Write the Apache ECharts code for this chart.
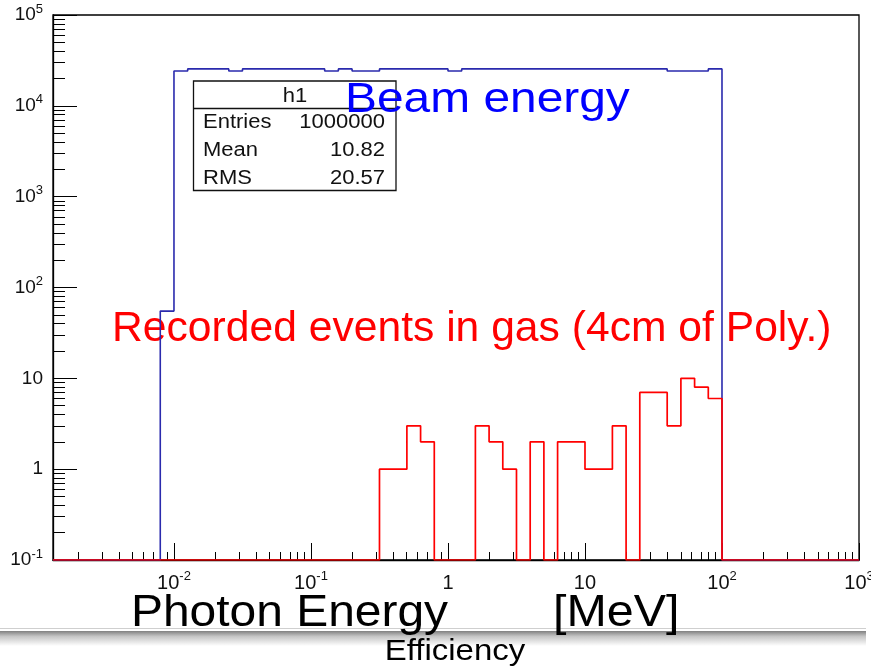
<!DOCTYPE html>
<html>
<head>
<meta charset="utf-8">
<script src="https://cdn.jsdelivr.net/npm/echarts@6/dist/echarts.min.js"></script>
<style>
  html, body { margin: 0; padding: 0; background: #fff; }
  #chart { width: 871px; height: 667px; }
</style>
</head>
<body>
<div id="chart"></div>
<script>
const FONT = '"Liberation Sans", Arial, sans-serif';

// Axis ranges, expressed as log10 of the plotted quantity
const xMinExp = -2.883;
const xMaxExp = 3;
const yMinExp = -1;
const yMaxExp = 5;
const xMajorExp = [-2, -1, 0, 1, 2, 3];
const yMajorExp = [-1, 0, 1, 2, 3, 4, 5];

// Histogram binning: 10 equal bins per decade of photon energy
const binWidthExp = 0.1;

// h1: beam energy spectrum (counts per bin), first bin starts at 10^-2.1 MeV
const beamStartExp = -2.1;
const beamCounts = [
  55,
  24200, 25500, 25500, 25500, 24200, 25500, 25500, 25500, 25500, 25500,
  25500, 24200, 25500, 24200, 24200, 25500, 25500, 25500, 25500, 25500,
  24200, 25500, 25500, 25500, 25500, 25500, 25500, 25500, 25500, 25500,
  25500, 25500, 25500, 25500, 25500, 25500, 24200, 24200, 24200, 25500
];

// Events recorded in the gas, first bin starts at 10^-0.5 MeV
const gasStartExp = -0.5;
const gasCounts = [
  1, 1, 3, 2, 0, 0, 0, 3, 2, 1,
  0, 2, 0, 2, 2, 1, 1, 3, 0, 7,
  7, 3, 10, 8, 6
];

// Statistics box of h1
const statTitle = 'h1';
const statLabels = ['Entries', 'Mean', 'RMS'];
const statValues = ['1000000', '10.82', '20.57'];

// Step outline of a histogram in log-log space; empty bins sit on the lower frame
function histOutline(startExp, counts) {
  const base = yMinExp;
  const toY = c => (c > 0 ? Math.max(Math.log10(c), base) : base);
  const pts = [[xMinExp, base], [startExp, base]];
  counts.forEach((c, i) => {
    const lo = startExp + i * binWidthExp;
    const hi = lo + binWidthExp;
    pts.push([lo, toY(c)], [hi, toY(c)]);
  });
  const end = startExp + counts.length * binWidthExp;
  pts.push([end, base], [xMaxExp, base]);
  return pts;
}

// Minor log ticks at 2..9 x 10^n inside [lo, hi]
function minorLogTicks(lo, hi) {
  const out = [];
  for (let n = Math.floor(lo); n < hi; n++) {
    for (let k = 2; k <= 9; k++) {
      const v = n + Math.log10(k);
      if (v >= lo && v <= hi) out.push(v);
    }
  }
  return out;
}

function powerLabel(v) {
  const n = Math.round(v);
  if (n === 0) return '{b|1}';
  if (n === 1) return '{b|10}';
  return '{b|10}{s|' + n + '}';
}

function richFor(size, supSize, lh) {
  return {
    b: { fontSize: size, fontFamily: FONT, color: '#111', lineHeight: lh, verticalAlign: 'middle' },
    s: { fontSize: supSize, fontFamily: FONT, color: '#111', lineHeight: lh, verticalAlign: 'top' }
  };
}

function textEl(text, x, y, size, color, align, scaleX, z) {
  return {
    type: 'text', z: z, x: x, y: y, scaleX: scaleX,
    style: { text: text, fontSize: size, fontFamily: FONT, fill: color,
      align: align, textAlign: align, verticalAlign: 'middle', textVerticalAlign: 'middle' }
  };
}

const chart = echarts.init(document.getElementById('chart'), null, { renderer: 'canvas' });

const axisBlack = { color: '#000', width: 1 };
const frameBlack = { color: '#000', width: 1.3 };

const statGraphics = [
  {
    type: 'rect', z: 5,
    shape: { x: 193.5, y: 81, width: 202.5, height: 109.5 },
    style: { fill: '#fff', stroke: '#111', lineWidth: 1.3 }
  },
  {
    type: 'line', z: 6,
    shape: { x1: 193.5, y1: 108.5, x2: 396, y2: 108.5 },
    style: { stroke: '#111', lineWidth: 1.3 }
  },
  textEl(statTitle, 295, 96, 20, '#111', 'center', 1.1, 7)
];
statLabels.forEach((lab, i) => {
  const y = 122 + i * 28;
  statGraphics.push(textEl(lab, 203, y, 20, '#111', 'left', 1.1, 7));
  statGraphics.push(textEl(statValues[i], 385, y, 20, '#111', 'right', 1.1, 7));
});

chart.setOption({
  animation: false,
  backgroundColor: '#fff',
  grid: {
    left: 53, right: 12, top: 15, bottom: 107,
    show: true, borderColor: '#000', borderWidth: 1.3,
    containLabel: false, outerBoundsMode: 'none'
  },
  xAxis: [
    {
      type: 'value', min: xMinExp, max: xMaxExp, position: 'bottom',
      axisLine: { onZero: false, lineStyle: frameBlack },
      axisTick: { inside: true, length: 17, customValues: xMajorExp, lineStyle: axisBlack },
      axisLabel: { customValues: xMajorExp, margin: 10, formatter: powerLabel, rich: richFor(20, 13, 27) },
      splitLine: { show: false }
    },
    {
      type: 'value', min: xMinExp, max: xMaxExp, position: 'bottom',
      axisLine: { show: false, onZero: false },
      axisTick: { inside: true, length: 8, customValues: minorLogTicks(xMinExp, xMaxExp), lineStyle: axisBlack },
      axisLabel: { show: false },
      splitLine: { show: false }
    }
  ],
  yAxis: [
    {
      type: 'value', min: yMinExp, max: yMaxExp, position: 'left',
      axisLine: { onZero: false, lineStyle: frameBlack },
      axisTick: { inside: true, length: 24, customValues: yMajorExp, lineStyle: axisBlack },
      axisLabel: { customValues: yMajorExp, margin: 10, formatter: powerLabel, rich: richFor(19, 13, 25) },
      splitLine: { show: false }
    },
    {
      type: 'value', min: yMinExp, max: yMaxExp, position: 'left',
      axisLine: { show: false, onZero: false },
      axisTick: { inside: true, length: 12, customValues: minorLogTicks(yMinExp, yMaxExp), lineStyle: axisBlack },
      axisLabel: { show: false },
      splitLine: { show: false }
    }
  ],
  series: [
    {
      name: 'h1', type: 'line', xAxisIndex: 0, yAxisIndex: 0,
      data: histOutline(beamStartExp, beamCounts),
      showSymbol: false, symbol: 'none', silent: true, z: 3,
      lineStyle: { color: '#2a2aad', width: 1.6 }
    },
    {
      name: 'gas', type: 'line', xAxisIndex: 0, yAxisIndex: 0,
      data: histOutline(gasStartExp, gasCounts),
      showSymbol: false, symbol: 'none', silent: true, z: 4,
      lineStyle: { color: '#ff0000', width: 1.7 }
    }
  ],
  graphic: [
    ...statGraphics,
    textEl('Beam energy', 345, 100, 42, '#0000ff', 'left', 1.14, 8),
    textEl('Recorded events in gas (4cm of Poly.)', 112, 329, 42, '#ff0000', 'left', 1.015, 1),
    {
      type: 'rect', z: 0,
      shape: { x: 0, y: 628, width: 866, height: 1 },
      style: { fill: '#cfcfcf' }
    },
    {
      type: 'rect', z: 0,
      shape: { x: 0, y: 631, width: 866, height: 15 },
      style: {
        fill: new echarts.graphic.LinearGradient(0, 0, 0, 1, [
          { offset: 0, color: '#808080' },
          { offset: 0.35, color: '#c4c4c4' },
          { offset: 1, color: '#ffffff' }
        ])
      }
    },
    textEl('Photon Energy', 131, 614, 45, '#000', 'left', 1.065, 2),
    textEl('[MeV]', 553, 614, 45, '#000', 'left', 1.075, 2),
    textEl('Efficiency', 455, 652, 30, '#000', 'center', 1.1, 2)
  ]
});
</script>
</body>
</html>
